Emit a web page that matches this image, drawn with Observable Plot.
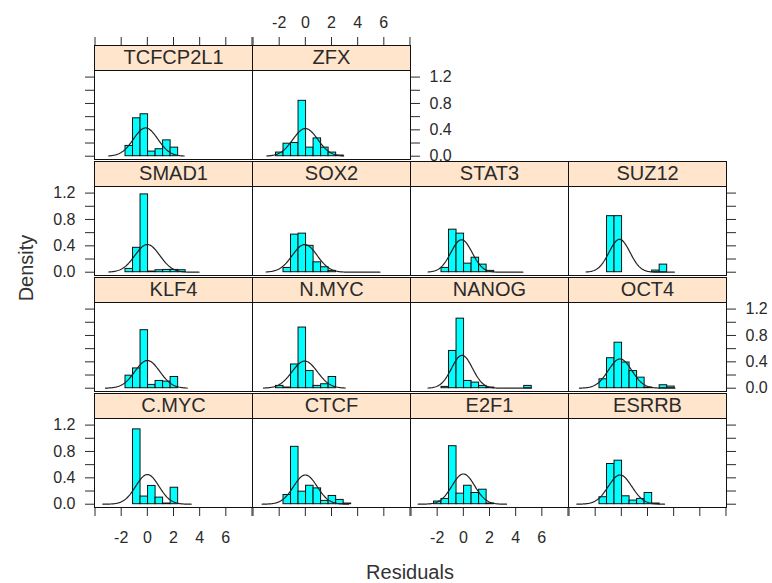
<!DOCTYPE html>
<html><head><meta charset="utf-8">
<script src="https://cdn.jsdelivr.net/npm/d3@7"></script>
<script src="https://cdn.jsdelivr.net/npm/@observablehq/plot@0.6"></script>
<style>
html,body{margin:0;padding:0;background:#fff;}
#chart{position:relative;width:772px;height:583px;overflow:hidden;font-family:"Liberation Sans",Arial,sans-serif;color:#222;background:#fff;}
.ttl{position:absolute;font-size:20px;color:#333;white-space:nowrap;}
</style></head><body>
<div id="chart"></div>
<script>
// Panels in lattice order (filled bottom-left to top-right)
const factors = ["C.MYC","CTCF","E2F1","ESRRB","KLF4","N.MYC","NANOG","OCT4","SMAD1","SOX2","STAT3","SUZ12","TCFCP2L1","ZFX"];
// Histogram break points (shared)
const breaks = [-3.395,-2.82,-2.245,-1.67,-1.095,-0.52,0.055,0.63,1.205,1.78,2.355,2.93,3.505,4.08,4.655,5.23];
// Densities per bin, per panel
const densCMYC     = [0,0,0,0,1.135,0.116,0.277,0.10,0.01,0.25,0,0,0,0,0];
const densCTCF     = [0,0,0,0.14,0.87,0.19,0.28,0.24,0.05,0.125,0.065,0.01,0,0,0];
const densE2F1     = [0,0,0.04,0.08,0.88,0.16,0.28,0.17,0.22,0.01,0,0,0,0,0];
const densESRRB    = [0,0,0,0.106,0.61,0.66,0.12,0.055,0.08,0.17,0.01,0,0,0,0];
const densKLF4     = [0,0,0,0.19,0.30,0.88,0.05,0.11,0.10,0.17,0,0,0,0,0];
const densNMYC     = [0,0,0.035,0.01,0.36,0.92,0.26,0.035,0.06,0.17,0,0,0,0,0];
const densNANOG    = [0,0,0,0.02,0.565,1.055,0.11,0.085,0.035,0.01,0,0,0,0,0.035];
const densOCT4     = [0,0,0,0.135,0.455,0.69,0.39,0.26,0.16,0.01,0,0.045,0.025,0,0];
const densSMAD1    = [0,0,0,0.05,0.37,1.18,0.01,0.03,0.035,0.035,0.03,0,0,0,0];
const densSOX2     = [0,0,0,0.065,0.57,0.585,0.40,0.15,0.075,0.02,0,0,0,0,0];
const densSTAT3    = [0,0,0,0.065,0.645,0.585,0.13,0.22,0.115,0.02,0,0,0,0,0];
const densSUZ12    = [0,0,0,0,0.85,0.85,0,0,0,0,0.025,0.115,0,0,0];
const densTCFCP2L1 = [0,0,0,0.156,0.575,0.636,0.07,0.106,0.24,0.13,0,0,0,0,0];
const densZFX      = [0,0,0.055,0.19,0.2,0.84,0.13,0.27,0.13,0.055,0.01,0,0,0,0];
// Fitted normal density curve per panel
const curveMean = [0, 0, 0, -0.1, 0, -0.05, -0.1, -0.1, 0, -0.05, -0.14, -0.14, -0.13, 0];
const curveSd   = [0.886, 0.9, 0.87, 0.9, 0.95, 0.97, 0.8, 0.9, 0.95, 0.95, 0.81, 0.8, 0.93, 0.95];
const curveFrom = [-3.4, -3.3, -3.45, -3.4, -3.2, -3.2, -2.7, -3.2, -2.95, -3.0, -2.7, -2.7, -2.95, -2.95];
const curveTo   = [3.35, 3.3, 3.3, 3.3, 3.05, 3.05, 5.2, 4.1, 3.95, 5.7, 4.55, 4.05, 2.82, 2.93];
// Axis ticks
const xTicks = [-4,-2,0,2,4,6,8];
const xTickLabels = [-2,0,2,4,6];
const yTicks = [0,0.2,0.4,0.6,0.8,1.0,1.2];
const yTickLabels = [0,0.4,0.8,1.2];

const densities = [densCMYC,densCTCF,densE2F1,densESRRB,densKLF4,densNMYC,densNANOG,densOCT4,densSMAD1,densSOX2,densSTAT3,densSUZ12,densTCFCP2L1,densZFX];

const PANEL_W = 158, STRIP_H = 25, PANEL_H = 89, PITCH_Y = 116, LEFT = 94, TOP = 45, M = 50;
const xDomain = [-4.04, 8.04];
const yLo = -0.05, yHi = 1.30;
const yStrip = yHi + STRIP_H * (yHi - yLo) / PANEL_H;
const chart = document.getElementById("chart");

function dnorm(x, m, s) { return Math.exp(-0.5 * ((x - m) / s) ** 2) / (s * Math.sqrt(2 * Math.PI)); }

factors.forEach((name, i) => {
  const col = i % 4, rowT = 3 - Math.floor(i / 4);
  const dens = densities[i];
  const bars = [];
  dens.forEach((d, k) => { if (d > 0) bars.push({x1: breaks[k], x2: breaks[k + 1], d}); });
  const n = 120, curve = [];
  for (let k = 0; k < n; k++) {
    const x = curveFrom[i] + (curveTo[i] - curveFrom[i]) * k / (n - 1);
    curve.push({x, y: dnorm(x, curveMean[i], curveSd[i])});
  }
  const rightmost = col === 3 || (rowT === 0 && col === 1);
  const xAxis = rowT === 0 ? "top" : rowT === 3 ? "bottom" : null;
  const xLabels = (xAxis === "top" && col % 2 === 1) || (xAxis === "bottom" && col % 2 === 0);
  const yAxis = col === 0 ? "left" : rightmost ? "right" : null;
  const yLabels = (yAxis === "left" && rowT % 2 === 1) || (yAxis === "right" && rowT % 2 === 0);

  const svg = Plot.plot({
    width: PANEL_W + 2 * M, height: STRIP_H + PANEL_H + 2 * M,
    marginLeft: M, marginRight: M, marginTop: M, marginBottom: M,
    style: {background: "transparent", overflow: "visible", fontSize: "16px",
            fontFamily: '"Liberation Sans", Arial, sans-serif', color: "#2a2a2a"},
    x: {domain: xDomain, axis: xAxis, ticks: xTicks, label: null, tickSize: 9,
        tickPadding: xAxis === "top" ? 9 : 15,
        tickFormat: d => (xLabels && xTickLabels.includes(d)) ? String(d) : ""},
    y: {domain: [yLo, yStrip], axis: yAxis, ticks: yTicks, label: null, tickSize: 9, tickPadding: 10,
        tickFormat: d => (yLabels && yTickLabels.includes(d)) ? d.toFixed(1) : ""},
    marks: [
      Plot.rect([name], {x1: () => xDomain[0], x2: () => xDomain[1], y1: () => yHi, y2: () => yStrip, fill: "#ffe5cc"}),
      Plot.rect(bars, {x1: "x1", x2: "x2", y1: () => 0, y2: "d", fill: "#00ffff", stroke: "#111", strokeWidth: 1}),
      Plot.line(curve, {x: "x", y: "y", stroke: "#222", strokeWidth: 1.2}),
      Plot.text([name], {x: () => (xDomain[0] + xDomain[1]) / 2, y: () => (yHi + yStrip) / 2, text: d => d, fontSize: 20, fill: "#2a2a2a"}),
      Plot.ruleY([yHi], {stroke: "#111"}),
      Plot.frame({stroke: "#111"})
    ]
  });
  svg.style.position = "absolute";
  svg.style.left = (LEFT + col * PANEL_W - M) + "px";
  svg.style.top = (TOP + rowT * PITCH_Y - M) + "px";
  chart.appendChild(svg);
});

const dens = document.createElement("div");
dens.className = "ttl"; dens.textContent = "Density";
dens.style.left = "26px"; dens.style.top = "268px";
dens.style.transform = "translate(-50%,-50%) rotate(-90deg)";
chart.appendChild(dens);
const res = document.createElement("div");
res.className = "ttl"; res.textContent = "Residuals";
res.style.left = "410px"; res.style.top = "572px";
res.style.transform = "translate(-50%,-50%)";
chart.appendChild(res);
</script>
</body></html>
